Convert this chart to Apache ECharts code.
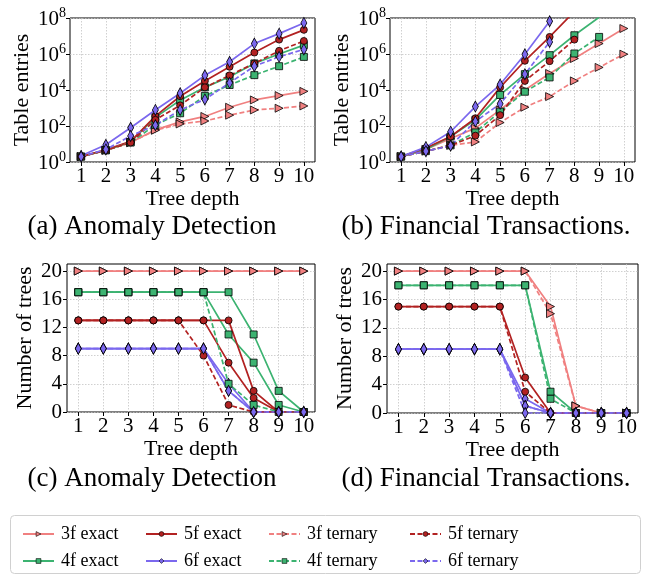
<!DOCTYPE html>
<html><head><meta charset="utf-8">
<script src="https://cdn.jsdelivr.net/npm/echarts@6/dist/echarts.min.js"></script>
<style>html,body{margin:0;padding:0;background:#fff}#c{width:649px;height:575px}</style>
</head><body><div id="c"></div>
<script>
// ---------- data ----------
const depths = [1, 2, 3, 4, 5, 6, 7, 8, 9, 10];
const countTicks = [0, 4, 8, 12, 16, 20];

// (a) Anomaly Detection - table entries
const a_3f_exact   = [2, 4.5, 12, 61, 170, 340, 1100, 2800, 4900, 8400];
const a_4f_exact   = [2, 4.5, 13, 300, 2700, 14000, 55000, 300000, 1000000, 3100000];
const a_5f_exact   = [2, 4.8, 14, 350, 4500, 32000, 195000, 1200000, 6300000, 22000000];
const a_6f_exact   = [2.2, 9, 80, 780, 6600, 65000, 370000, 3800000, 13500000, 53000000];
const a_3f_ternary = [2, 4.5, 12, 58, 130, 190, 400, 780, 970, 1300];
const a_4f_ternary = [2, 4.5, 12, 115, 510, 4700, 19000, 67000, 210000, 690000];
const a_5f_ternary = [2, 4.5, 12, 220, 1400, 14000, 65000, 300000, 1500000, 5300000];
const a_6f_ternary = [2, 5, 28, 110, 780, 3000, 25000, 210000, 700000, 1800000];

// (b) Financial Transactions - table entries
const b_3f_exact   = [2, 5, 20, 76, 790, 10000, 83000, 560000, 3800000, 26000000];
const b_4f_exact   = [2, 5, 26, 220, 5300, 76000, 860000, 11000000, 110000000, null];
const b_5f_exact   = [2, 6, 26, 270, 14000, 420000, 8900000, 230000000, null, null];
const b_6f_exact   = [2, 6.7, 48, 1200, 20000, 960000, 66000000, null, null, null];
const b_3f_ternary = [2, 4, 8.4, 13, 155, 1100, 4300, 32000, 180000, 980000];
const b_4f_ternary = [2, 4, 8.4, 44, 630, 8000, 50000, 1070000, 8900000, null];
const b_5f_ternary = [2, 4, 8.4, 29, 400, 32000, 400000, 6300000, null, null];
const b_6f_ternary = [2, 4, 8, 178, 1700, 76000, 4700000, null, null, null];

// (c) Anomaly Detection - number of trees
const c_3f_exact    = [20, 20, 20, 20, 20, 20, 20, 20, 20, 20];
const c_4f_exact    = [17, 17, 17, 17, 17, 17, 17, 11, 3, 0];
const c_4f_exact_b  = [17, 17, 17, 17, 17, 17, 11, 7, 1, 0];
const c_5f_exact    = [13, 13, 13, 13, 13, 13, 13, 3, 0, 0];
const c_5f_exact_b  = [13, 13, 13, 13, 13, 13, 7, 2, 0, 0];
const c_6f_exact    = [9, 9, 9, 9, 9, 9, 4, 0, 0, 0];
const c_6f_exact_b  = [9, 9, 9, 9, 9, 9, 3, 0, 0, 0];
const c_3f_ternary  = [20, 20, 20, 20, 20, 20, 20, 20, 20, 20];
const c_4f_ternary  = [17, 17, 17, 17, 17, 17, 4, 1, 0, 0];
const c_5f_ternary  = [13, 13, 13, 13, 13, 8, 1, 0, 0, 0];
const c_6f_ternary  = [9, 9, 9, 9, 9, 9, 3, 0, 0, 0];

// (d) Financial Transactions - number of trees
const d_3f_exact    = [20, 20, 20, 20, 20, 20, 15, 1, 0, 0];
const d_4f_exact    = [18, 18, 18, 18, 18, 18, 3, 0, 0, 0];
const d_5f_exact    = [15, 15, 15, 15, 15, 5, 0, 0, 0, 0];
const d_6f_exact    = [9, 9, 9, 9, 9, 2, 0, 0, 0, 0];
const d_6f_exact_b  = [9, 9, 9, 9, 9, 1, 0, 0, 0, 0];
const d_3f_ternary  = [20, 20, 20, 20, 20, 20, 14, 1, 0, 0];
const d_4f_ternary  = [18, 18, 18, 18, 18, 18, 2, 0, 0, 0];
const d_5f_ternary  = [15, 15, 15, 15, 15, 3, 0, 0, 0, 0];
const d_6f_ternary  = [9, 9, 9, 9, 9, 1, 0, 0, 0, 0];
const d_6f_ternary_b= [9, 9, 9, 9, 9, 0, 0, 0, 0, 0];

const legendNames = ['3f exact', '5f exact', '3f ternary', '5f ternary',
                     '4f exact', '6f exact', '4f ternary', '6f ternary'];

// ---------- styling ----------
const FONT = 'Liberation Serif';
const COLORS = { '3f': '#f08080', '4f': '#3cb371', '5f': '#b22222', '6f': '#7b68ee' };
const SYM = {
  '3f': { s: 'triangle', size: [8, 8], rot: -90 },
  '4f': { s: 'rect', size: [7, 7], rot: 0 },
  '5f': { s: 'circle', size: [7, 7], rot: 0 },
  '6f': { s: 'diamond', size: [6, 11], rot: 0 }
};

function mk(name, feat, dashed, data, idx) {
  return {
    name: name, type: 'line', xAxisIndex: idx, yAxisIndex: idx,
    data: depths.map((d, i) => [d, data[i]]),
    symbol: SYM[feat].s, symbolSize: SYM[feat].size, symbolRotate: SYM[feat].rot,
    showSymbol: true, showAllSymbol: true, clip: true,
    lineStyle: { color: COLORS[feat], width: 1.7, type: dashed ? [5, 2.5] : 'solid' },
    itemStyle: { color: COLORS[feat], borderColor: '#000', borderWidth: 0.8 },
    emphasis: { disabled: true }
  };
}

const grids = [
  { left: 70, top: 18, width: 245, height: 144 },
  { left: 390, top: 18, width: 245, height: 144 },
  { left: 67, top: 264, width: 248, height: 148 },
  { left: 387, top: 264, width: 251, height: 149 }
].map(g => Object.assign(g, { show: true, borderColor: '#000', borderWidth: 1, containLabel: false }));

const gridLine = { show: true, lineStyle: { color: '#c4c4c4', type: [1.5, 1.5], width: 0.8 } };

function xAx(idx) {
  return {
    type: 'value', gridIndex: idx, min: 0.55, max: 10.45,
    minInterval: 1, maxInterval: 1, splitNumber: 10,
    name: 'Tree depth', nameLocation: 'middle', nameGap: 24,
    nameTextStyle: { fontFamily: FONT, fontSize: 22, color: '#000' },
    axisLine: { show: false },
    axisTick: { show: true, length: 4, lineStyle: { color: '#000' }, customValues: depths },
    axisLabel: { fontFamily: FONT, fontSize: 21, color: '#000', margin: 4, customValues: depths,
      formatter: v => String(v) },
    splitLine: gridLine
  };
}
function yLog(idx) {
  return {
    type: 'log', gridIndex: idx, logBase: 100, min: 1, max: 100000000,
    name: 'Table entries', nameLocation: 'middle', nameGap: 37,
    nameTextStyle: { fontFamily: FONT, fontSize: 22, color: '#000' },
    axisLine: { show: false },
    axisTick: { show: true, length: 4, lineStyle: { color: '#000' } },
    axisLabel: {
      margin: 4, color: '#000',
      formatter: v => '{b|10}{s|' + Math.round(Math.log10(v)) + '}',
      rich: {
        b: { fontFamily: FONT, fontSize: 21, color: '#000', lineHeight: 24, verticalAlign: 'bottom' },
        s: { fontFamily: FONT, fontSize: 14, color: '#000', lineHeight: 24, verticalAlign: 'top', padding: [0, 0, 9, 0] }
      }
    },
    minorTick: { show: false },
    splitLine: gridLine
  };
}
function yCnt(idx) {
  return {
    type: 'value', gridIndex: idx, min: 0, max: 21, interval: 4,
    name: 'Number of trees', nameLocation: 'middle', nameGap: 31,
    nameTextStyle: { fontFamily: FONT, fontSize: 22, color: '#000' },
    axisLine: { show: false },
    axisTick: { show: true, length: 4, lineStyle: { color: '#000' }, customValues: countTicks },
    axisLabel: { fontFamily: FONT, fontSize: 21, color: '#000', margin: 5, customValues: countTicks },
    splitLine: gridLine
  };
}

const series = [
  // (a)
  mk('3f exact', '3f', false, a_3f_exact, 0),
  mk('4f exact', '4f', false, a_4f_exact, 0),
  mk('5f exact', '5f', false, a_5f_exact, 0),
  mk('6f exact', '6f', false, a_6f_exact, 0),
  mk('3f ternary', '3f', true, a_3f_ternary, 0),
  mk('4f ternary', '4f', true, a_4f_ternary, 0),
  mk('5f ternary', '5f', true, a_5f_ternary, 0),
  mk('6f ternary', '6f', true, a_6f_ternary, 0),
  // (b)
  mk('3f exact', '3f', false, b_3f_exact, 1),
  mk('4f exact', '4f', false, b_4f_exact, 1),
  mk('5f exact', '5f', false, b_5f_exact, 1),
  mk('6f exact', '6f', false, b_6f_exact, 1),
  mk('3f ternary', '3f', true, b_3f_ternary, 1),
  mk('4f ternary', '4f', true, b_4f_ternary, 1),
  mk('5f ternary', '5f', true, b_5f_ternary, 1),
  mk('6f ternary', '6f', true, b_6f_ternary, 1),
  // (c)
  mk('3f exact', '3f', false, c_3f_exact, 2),
  mk('4f exact', '4f', false, c_4f_exact, 2),
  mk('4f exact', '4f', false, c_4f_exact_b, 2),
  mk('5f exact', '5f', false, c_5f_exact, 2),
  mk('5f exact', '5f', false, c_5f_exact_b, 2),
  mk('6f exact', '6f', false, c_6f_exact, 2),
  mk('6f exact', '6f', false, c_6f_exact_b, 2),
  mk('3f ternary', '3f', true, c_3f_ternary, 2),
  mk('4f ternary', '4f', true, c_4f_ternary, 2),
  mk('5f ternary', '5f', true, c_5f_ternary, 2),
  mk('6f ternary', '6f', true, c_6f_ternary, 2),
  // (d)
  mk('3f exact', '3f', false, d_3f_exact, 3),
  mk('4f exact', '4f', false, d_4f_exact, 3),
  mk('5f exact', '5f', false, d_5f_exact, 3),
  mk('6f exact', '6f', false, d_6f_exact, 3),
  mk('6f exact', '6f', false, d_6f_exact_b, 3),
  mk('3f ternary', '3f', true, d_3f_ternary, 3),
  mk('4f ternary', '4f', true, d_4f_ternary, 3),
  mk('5f ternary', '5f', true, d_5f_ternary, 3),
  mk('6f ternary', '6f', true, d_6f_ternary, 3),
  mk('6f ternary', '6f', true, d_6f_ternary_b, 3)
];

const legendLeft = [17, 140, 263, 404];
const legendTop = [520, 547];
const legends = legendNames.map((n, i) => ({
  orient: 'horizontal', left: legendLeft[i % 4], top: legendTop[Math.floor(i / 4)], data: [n],
  itemWidth: 31, itemHeight: 6, selectedMode: false,
  textStyle: { fontFamily: FONT, fontSize: 18, color: '#000', padding: [0, 0, 0, 2] },
  itemStyle: { borderWidth: 0.6 }
}));

const captions = [
  { text: '(a) Anomaly Detection', x: 152, y: 227 },
  { text: '(b) Financial Transactions.', x: 486, y: 227 },
  { text: '(c) Anomaly Detection', x: 152, y: 479 },
  { text: '(d) Financial Transactions.', x: 486, y: 479 }
];

const chart = echarts.init(document.getElementById('c'), null, { renderer: 'canvas' });
chart.setOption({
  animation: false,
  backgroundColor: '#fff',
  grid: grids,
  xAxis: [0, 1, 2, 3].map(xAx),
  yAxis: [yLog(0), yLog(1), yCnt(2), yCnt(3)],
  legend: legends,
  series: series,
  graphic: [
    { type: 'rect', shape: { x: 10.5, y: 515.5, width: 630, height: 58, r: 4 },
      style: { fill: '#fff', stroke: '#d0d0d0', lineWidth: 1 }, z: -1 }
  ].concat(captions.map(c => ({
    type: 'text', x: c.x, y: c.y,
    style: { text: c.text, fontFamily: FONT, fontSize: 27, fill: '#000', textAlign: 'center', textVerticalAlign: 'middle' }
  })))
});
</script>
</body></html>
